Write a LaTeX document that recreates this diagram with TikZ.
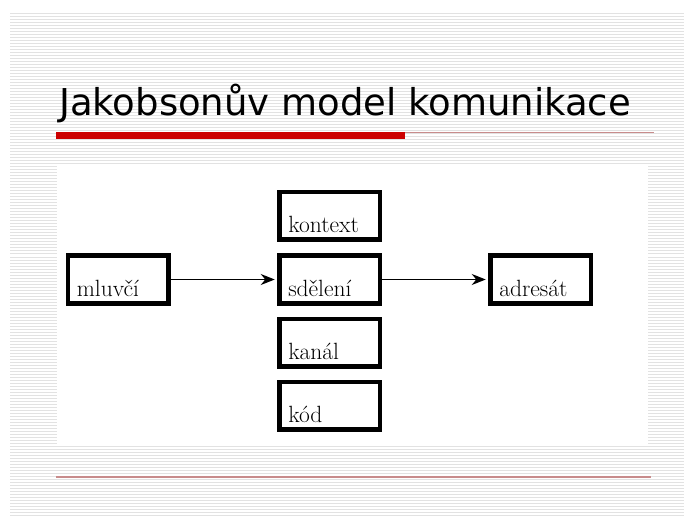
\documentclass[tikz,border=0pt]{standalone}
\usepackage{fontspec}
\newfontfamily\titlefont{DejaVu Sans}
\usetikzlibrary{arrows.meta}
\definecolor{slidered}{RGB}{204,0,0}
\definecolor{rulered}{RGB}{200,140,140}
\definecolor{stripegray}{RGB}{226,226,226}

\begin{document}
\begin{tikzpicture}[
  x=1pt, y=-1pt,
  every node/.style={font=\fontsize{23.5}{28}\selectfont},
  part/.style={draw, line width=4.5pt, text width=82.5pt, align=left, inner xsep=9pt, inner ysep=4pt, text height=36.25pt, text depth=3.25pt},
  flow/.style={-{Stealth[length=14pt, width=11pt, inset=4.5pt]}, line width=1.5pt, shorten >=2.25pt},
  stripe/.style={stripegray, line width=1pt}
]
  \useasboundingbox (0,0) rectangle (684,518);
  % striped slide background
  \fill[white] (0,0) rectangle (684,518);
  \foreach \y in {14,17,...,515}
    \draw[stripe] (10,\y) -- (684,\y);
  \fill[white] (57,166) rectangle (648,445);

  % title and rules
  \node[font=\titlefont\fontsize{37}{42}\selectfont, anchor=base west, inner sep=0pt] (title) at (59,116) {Jakobsonův model komunikace};
  \fill[slidered] (56,132) rectangle (405,139);
  \draw[rulered, line width=1.5pt] (405,132.5) -- (654,132.5);
  \draw[rulered, line width=1.5pt] (56,477) -- (651,477);

  \node[part] (speaker) at (118,279.5) {mluvčí};
  \node[part] (context) at (329.5,216) {kontext};
  \node[part] (message) at (329.5,279.5) {sdělení};
  \node[part] (channel) at (329.5,342.5) {kanál};
  \node[part] (code) at (329.5,405.5) {kód};
  \node[part] (addressee) at (540.5,279.5) {adresát};

  \draw[flow] (speaker) -- (message);
  \draw[flow] (message) -- (addressee);
\end{tikzpicture}
\end{document}
